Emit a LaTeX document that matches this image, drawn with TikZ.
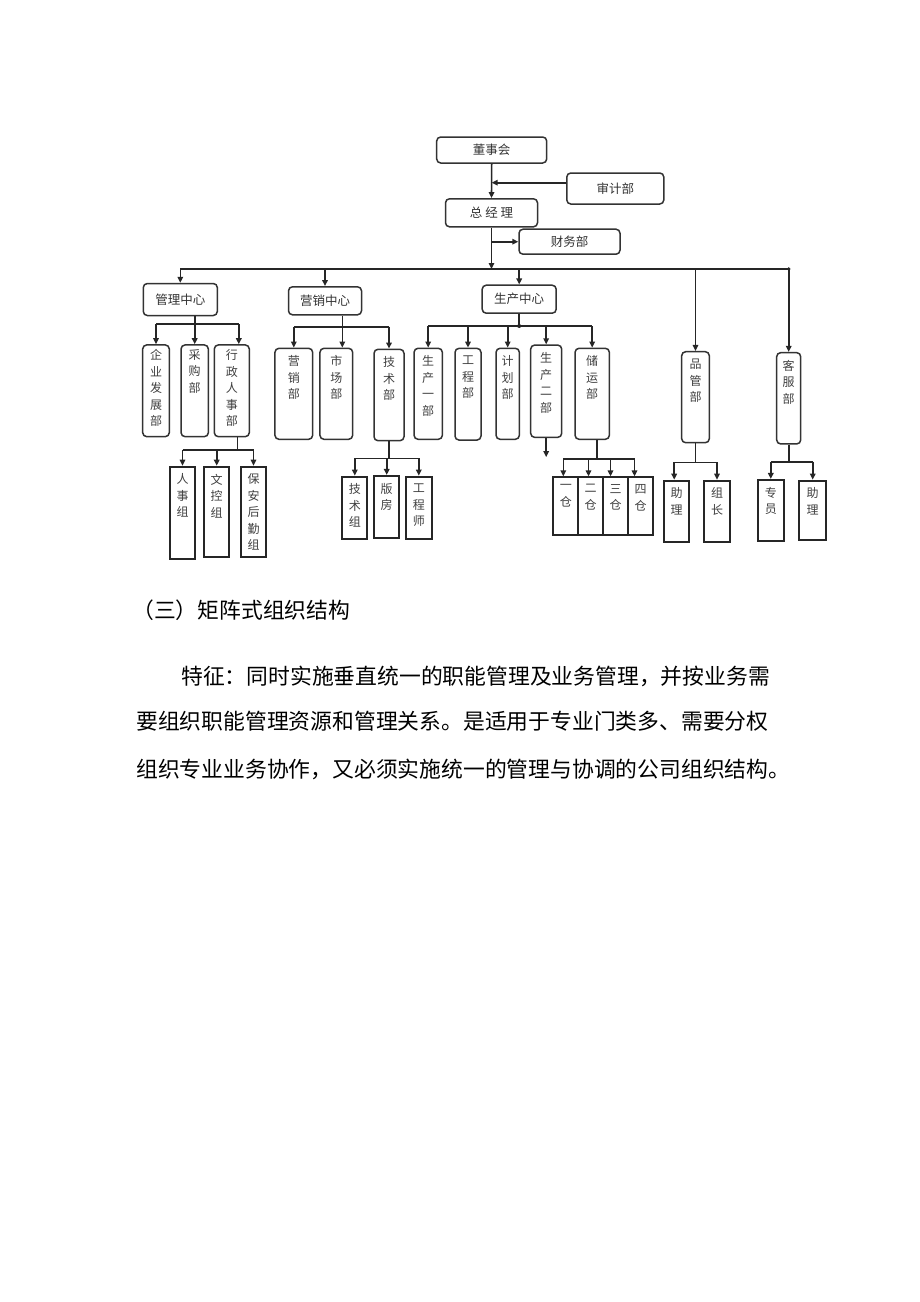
\documentclass[tikz,border=0pt]{standalone}
\usepackage{fontspec}
\newfontfamily\cjk{Noto Sans CJK SC}
\usetikzlibrary{arrows.meta}
\newcommand\dft{\cjk\fontsize{12}{16.5}\selectfont}
\newcommand\hft{\cjk\fontsize{12.5}{15}\selectfont}
\newcommand\bft{\cjk\fontsize{21.8}{26}\selectfont}
\begin{document}
\begin{tikzpicture}[x=1pt,y=-1pt,
  rb/.style={draw=black!80, line width=1.5pt, rounded corners=4pt, inner sep=0pt, font=\hft, text=black!80},
  lb/.style={draw=black!85, line width=2pt, inner sep=0pt},
  vl/.style={anchor=north, yshift=-8pt, align=center, font=\dft, text=black!75, inner sep=0pt},
  ln/.style={draw=black!85, line width=1.6pt},
  arr/.style={ln, -{Triangle[length=6pt,width=5.5pt]}},
  body/.style={anchor=west, font=\bft, inner sep=0pt}]
\useasboundingbox[fill=white] (0,0) rectangle (920,1302);

% top level
\node[rb, minimum width=110, minimum height=26] (dsh) at (491.7,150) {董事会};
\node[rb, minimum width=97, minimum height=31] (sjb) at (615.3,188.5) {审计部};
\node[rb, minimum width=92, minimum height=28] (zjl) at (491.5,212.8) {总\ 经\ 理};
\node[rb, minimum width=101, minimum height=25] (cwb) at (569.5,241.7) {财务部};

% centers
\node[rb, minimum width=74, minimum height=32] (glzx) at (180.3,299.5) {管理中心};
\node[rb, minimum width=73, minimum height=28] (yxzx) at (325,300.8) {营销中心};
\node[rb, minimum width=74, minimum height=28] (sczx) at (519.2,299.2) {生产中心};
\node[rb, minimum width=27.6, minimum height=91, label={[vl]north:品\\管\\部}] (pgb) at (695.5,397.2) {};
\node[rb, minimum width=24, minimum height=91.3, label={[vl]north:客\\服\\部}] (kfb) at (788.7,398.3) {};

% departments
\node[rb, minimum width=26.6, minimum height=91.7, label={[vl,yshift=3pt]north:企\\业\\发\\展\\部}] (qy) at (156,390.8) {};
\node[rb, minimum width=27.3, minimum height=91.7, label={[vl,yshift=3pt]north:采\\购\\部}] (cg) at (194.7,390.8) {};
\node[rb, minimum width=35, minimum height=91.7, label={[vl,yshift=3pt]north:行\\政\\人\\事\\部}] (xz) at (231.8,390.8) {};
\node[rb, minimum width=37.7, minimum height=91, label={[vl]north:营\\销\\部}] (yx) at (293.8,393.8) {};
\node[rb, minimum width=32.7, minimum height=91, label={[vl]north:市\\场\\部}] (sc) at (336.3,393.8) {};
\node[rb, minimum width=30, minimum height=91.4, label={[vl]north:技\\术\\部}] (js) at (389,395) {};
\node[rb, minimum width=28.3, minimum height=91, label={[vl]north:生\\产\\一\\部}] (scy) at (428.2,393.8) {};
\node[rb, minimum width=26, minimum height=91.7, label={[vl]north:工\\程\\部}] (gc) at (468,394.2) {};
\node[rb, minimum width=23.3, minimum height=91, label={[vl]north:计\\划\\部}] (jh) at (507.7,393.8) {};
\node[rb, minimum width=31, minimum height=92.3, label={[vl]north:生\\产\\二\\部}] (sce) at (546.2,391.2) {};
\node[rb, minimum width=34.3, minimum height=91, label={[vl]north:储\\运\\部}] (cy) at (592.2,393.8) {};

% leaves
\node[lb, minimum width=25, minimum height=92.6, label={[vl]north:人\\事\\组}] (rsz) at (182.5,513) {};
\node[lb, minimum width=25.3, minimum height=90.6, label={[vl]north:文\\控\\组}] (wkz) at (216.7,512) {};
\node[lb, minimum width=25, minimum height=90.6, label={[vl]north:保\\安\\后\\勤\\组}] (baz) at (253.5,512) {};
\node[lb, minimum width=25, minimum height=62.3, label={[vl]north:技\\术\\组}] (jsz) at (354.8,507.8) {};
\node[lb, minimum width=25.3, minimum height=61.7, label={[vl]north:版\\房}] (bf) at (386.7,506.8) {};
\node[lb, minimum width=25.7, minimum height=62.3, label={[vl]north:工\\程\\师}] (gcs) at (418.8,507.8) {};
\node[lb, minimum width=25, minimum height=57.7, label={[vl]north:一\\仓}] (c1) at (565.8,506.2) {};
\node[lb, minimum width=24.4, minimum height=57.7, label={[vl]north:二\\仓}] (c2) at (590.5,506.2) {};
\node[lb, minimum width=25.6, minimum height=57.7, label={[vl]north:三\\仓}] (c3) at (615.5,506.2) {};
\node[lb, minimum width=24.4, minimum height=57.7, label={[vl]north:四\\仓}] (c4) at (640.5,506.2) {};
\node[lb, minimum width=25.3, minimum height=61, label={[vl]north:助\\理}] (zl1) at (676.7,511.2) {};
\node[lb, minimum width=26, minimum height=61, label={[vl]north:组\\长}] (zz) at (717,511.2) {};
\node[lb, minimum width=26.3, minimum height=60.7, label={[vl]north:专\\员}] (zy) at (770.8,510.3) {};
\node[lb, minimum width=26.7, minimum height=59.3, label={[vl]north:助\\理}] (zl2) at (812.7,510.3) {};

% top connectors
\draw[arr] (dsh.south) -- (zjl.north);
\draw[arr] ([yshift=5.8pt]sjb.west) -- ([yshift=5.8pt]sjb.west -| dsh.south);
\draw[arr] (cwb.west -| zjl.south) -- (cwb.west);
\coordinate (bus) at (0,269);
\draw[arr] (zjl.south) -- (zjl.south |- bus);
\draw[ln] (glzx.north |- bus) -- (kfb.north |- bus);
\foreach \n in {glzx,yxzx,sczx,pgb,kfb} \draw[arr] (\n.north |- bus) -- (\n.north);
\fill[black!85] (kfb.north |- bus) circle (1.8pt);

% 管理中心
\coordinate (gbr) at (0,324);
\coordinate (xzt) at ([xshift=7pt]xz.north);
\draw[ln] (qy.north |- gbr) -- (xzt |- gbr);
\draw[arr] (qy.north |- gbr) -- (qy.north);
\draw[arr] (glzx.south -| cg.north) -- (cg.north);
\draw[arr] (xzt |- gbr) -- (xzt);

% 营销中心
\coordinate (ybr) at (0,326.7);
\coordinate (sct) at ([xshift=6pt]sc.north);
\draw[ln] (yx.north |- ybr) -- (js.north |- ybr);
\draw[arr] (yx.north |- ybr) -- (yx.north);
\draw[arr] (yxzx.south -| sct) -- (sct);
\draw[arr] (js.north |- ybr) -- (js.north);

% 生产中心
\coordinate (pbr) at (0,326);
\draw[ln] (scy.north |- pbr) -- (cy.north |- pbr);
\draw[ln] (sczx.south) -- (sczx.south |- pbr);
\fill[black!85] (sczx.south |- pbr) circle (2pt);
\foreach \n in {scy,gc,jh,sce,cy} \draw[arr] (\n.north |- pbr) -- (\n.north);
\draw[arr] (sce.south) -- ++(0,19);

% 行政人事部 leaves
\coordinate (xbr) at (0,450);
\coordinate (xzb) at ([xshift=5.5pt]xz.south);
\draw[ln] (xzb) -- (xzb |- xbr);
\draw[ln] (rsz.north |- xbr) -- (baz.north |- xbr);
\foreach \n in {rsz,wkz,baz} \draw[arr] (\n.north |- xbr) -- (\n.north);

% 技术部 leaves
\coordinate (jbr) at (0,458.3);
\draw[ln] (js.south) -- (js.south |- jbr);
\draw[ln] (jsz.north |- jbr) -- (gcs.north |- jbr);
\foreach \n in {jsz,bf,gcs} \draw[arr] (\n.north |- jbr) -- (\n.north);

% 储运部 leaves
\coordinate (cbr) at (0,459);
\coordinate (cyb) at ([xshift=4.5pt]cy.south);
\draw[ln] (cyb) -- (cyb |- cbr);
\coordinate (c1t) at ([xshift=-2.5pt]c1.north);
\coordinate (c2t) at ([xshift=-2pt]c2.north);
\coordinate (c3t) at ([xshift=-5pt]c3.north);
\coordinate (c4t) at ([xshift=-6pt]c4.north);
\draw[ln] (c1t |- cbr) -- (c4t |- cbr);
\foreach \n in {c1t,c2t,c3t,c4t} \draw[arr] (\n |- cbr) -- (\n);

% 品管部 leaves
\coordinate (qbr) at (0,462.3);
\coordinate (zl1t) at ([xshift=-2.5pt]zl1.north);
\draw[ln] (pgb.south) -- (pgb.south |- qbr);
\draw[ln] (zl1t |- qbr) -- (zz.north |- qbr);
\draw[arr] (zl1t |- qbr) -- (zl1t);
\draw[arr] (zz.north |- qbr) -- (zz.north);

% 客服部 leaves
\coordinate (kbr) at (0,461.7);
\draw[ln] (kfb.south) -- (kfb.south |- kbr);
\draw[ln] (zy.north |- kbr) -- (zl2.north |- kbr);
\foreach \n in {zy,zl2} \draw[arr] (\n.north |- kbr) -- (\n.north);

% body text
\node[body] (h3) at (132,610) {（三）矩阵式组织结构};
\node[body] (p1) at (181,676) {特征：同时实施垂直统一的职能管理及业务管理，并按业务需};
\node[body] (p2) at (136,721) {要组织职能管理资源和管理关系。是适用于专业门类多、需要分权};
\node[body] (p3) at (136,769) {组织专业业务协作，又必须实施统一的管理与协调的公司组织结构。};
\end{tikzpicture}
\end{document}
